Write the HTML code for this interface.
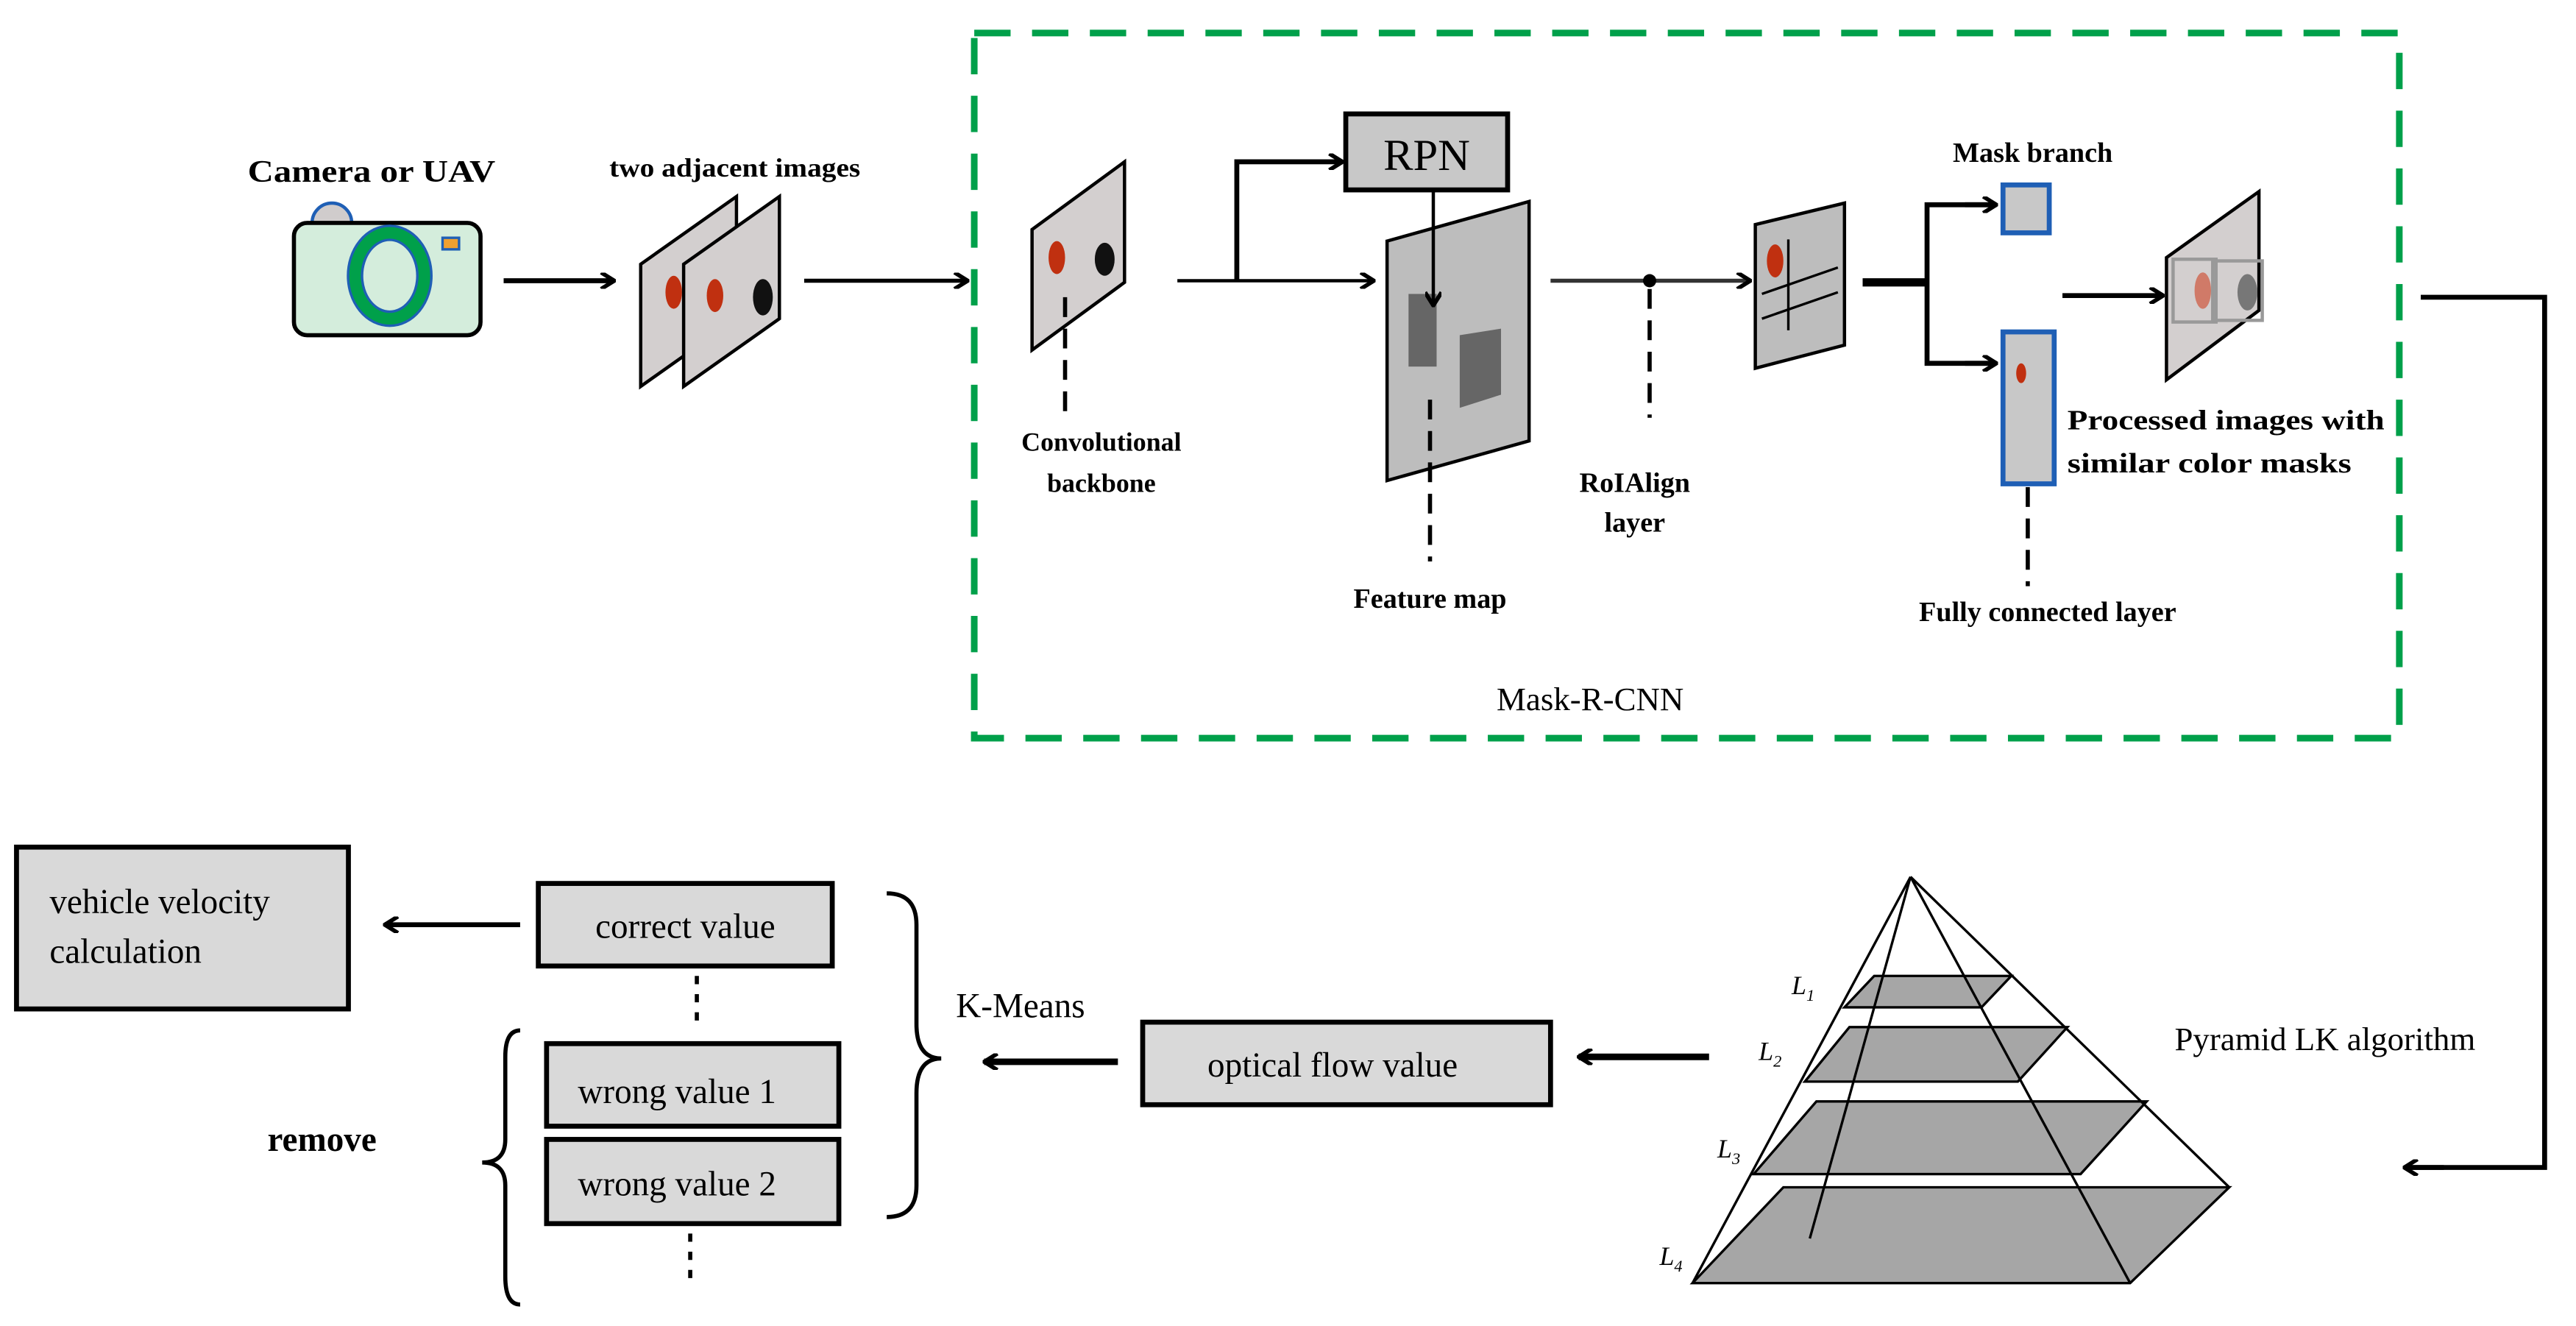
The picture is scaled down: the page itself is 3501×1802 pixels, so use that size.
<!DOCTYPE html>
<html><head><meta charset="utf-8"><style>html,body{margin:0;padding:0;background:#fff}svg{display:block}</style></head>
<body>
<svg width="3501" height="1802" viewBox="0 0 1560 803" preserveAspectRatio="none" xmlns="http://www.w3.org/2000/svg" font-family="Liberation Serif, serif">
<defs>
<marker id="a" markerWidth="10" markerHeight="10" refX="9" refY="5" orient="auto" markerUnits="userSpaceOnUse"><path d="M1,0 L9,5 L1,10" fill="none" stroke="#000" stroke-width="2.5"/></marker>
</defs>
<rect x="590" y="20" width="863" height="427" fill="none" stroke="#00a04a" stroke-width="4" stroke-dasharray="22,13"/>
<text x="225" y="110" font-size="19" text-anchor="middle" font-weight="bold" textLength="150" lengthAdjust="spacingAndGlyphs">Camera or UAV</text>
<path d="M189,135 A12,12 0 0 1 213,135 Z" fill="#d0cccc" stroke="#1f5fb5" stroke-width="2"/>
<rect x="178" y="135" width="113" height="68" rx="8" fill="#d4eddc" stroke="#000" stroke-width="2.5"/>
<ellipse cx="236" cy="167" rx="21" ry="26" fill="none" stroke="#1f5fb5" stroke-width="10"/>
<ellipse cx="236" cy="167" rx="21" ry="26" fill="none" stroke="#00a04a" stroke-width="7"/>
<rect x="268" y="144" width="10" height="7" fill="#f0a030" stroke="#1f5fb5" stroke-width="1.5"/>
<line x1="305" y1="170" x2="372" y2="170" stroke="#000" stroke-width="3" marker-end="url(#a)"/>
<text x="445" y="107" font-size="16" text-anchor="middle" font-weight="bold" textLength="152" lengthAdjust="spacingAndGlyphs">two adjacent images</text>
<path d="M388,160 L446,119 L446,193 L388,234 Z" fill="#d3cfcf" stroke="#000" stroke-width="2"/>
<ellipse cx="408" cy="177" rx="5" ry="10" fill="#c03010"/>
<path d="M414,160 L472,119 L472,193 L414,234 Z" fill="#d3cfcf" stroke="#000" stroke-width="2"/>
<ellipse cx="433" cy="179" rx="5" ry="10" fill="#c03010"/>
<ellipse cx="462" cy="180" rx="6" ry="11" fill="#111"/>
<line x1="487" y1="170" x2="586" y2="170" stroke="#000" stroke-width="2.5" marker-end="url(#a)"/>
<path d="M625,139 L681,98 L681,171 L625,212 Z" fill="#d3cfcf" stroke="#000" stroke-width="2"/>
<ellipse cx="640" cy="156" rx="5" ry="10" fill="#c03010"/>
<ellipse cx="669" cy="157" rx="6" ry="10" fill="#111"/>
<line x1="645" y1="180" x2="645" y2="255" stroke="#000" stroke-width="2.5" stroke-dasharray="12,7"/>
<text x="667" y="273" font-size="16" text-anchor="middle" font-weight="bold">Convolutional</text>
<text x="667" y="298" font-size="16" text-anchor="middle" font-weight="bold">backbone</text>
<line x1="713" y1="170" x2="832" y2="170" stroke="#000" stroke-width="2" marker-end="url(#a)"/>
<polyline points="749,170 749,98 813,98" fill="none" stroke="#000" stroke-width="3" marker-end="url(#a)"/>
<rect x="815" y="69" width="98" height="46" fill="#c8c8c8" stroke="#000" stroke-width="3"/>
<text x="864" y="103" font-size="27" text-anchor="middle">RPN</text>
<path d="M840,146 L926,122 L926,267 L840,291 Z" fill="#bdbdbd" stroke="#000" stroke-width="2"/>
<rect x="853" y="178" width="17" height="44" fill="#666"/>
<path d="M884,203 L909,199 L909,239 L884,247 Z" fill="#666"/>
<line x1="868" y1="115" x2="868" y2="185" stroke="#000" stroke-width="2" marker-end="url(#a)"/>
<line x1="866" y1="242" x2="866" y2="340" stroke="#000" stroke-width="2.5" stroke-dasharray="12,7"/>
<text x="866" y="368" font-size="17" text-anchor="middle" font-weight="bold">Feature map</text>
<line x1="939" y1="170" x2="1060" y2="170" stroke="#333" stroke-width="2.5" marker-end="url(#a)"/>
<circle cx="999" cy="170" r="4" fill="#000"/>
<line x1="999" y1="175" x2="999" y2="253" stroke="#000" stroke-width="2.5" stroke-dasharray="12,7"/>
<text x="990" y="298" font-size="17" text-anchor="middle" font-weight="bold">RoIAlign</text>
<text x="990" y="322" font-size="17" text-anchor="middle" font-weight="bold">layer</text>
<path d="M1063,136 L1117,123 L1117,209 L1063,223 Z" fill="#bdbdbd" stroke="#000" stroke-width="2"/>
<ellipse cx="1075" cy="158" rx="5" ry="10" fill="#c03010"/>
<line x1="1083" y1="145" x2="1083" y2="200" stroke="#000" stroke-width="1.5"/>
<line x1="1067" y1="178" x2="1113" y2="162" stroke="#000" stroke-width="1.5"/>
<line x1="1067" y1="193" x2="1113" y2="177" stroke="#000" stroke-width="1.5"/>
<line x1="1128" y1="171" x2="1167" y2="171" stroke="#000" stroke-width="5"/>
<polyline points="1209,124 1167,124 1167,220 1209,220" fill="none" stroke="#000" stroke-width="3"/>
<line x1="1190" y1="124" x2="1209" y2="124" stroke="#000" stroke-width="3" marker-end="url(#a)"/>
<line x1="1190" y1="220" x2="1209" y2="220" stroke="#000" stroke-width="3" marker-end="url(#a)"/>
<rect x="1213" y="112" width="28" height="29" fill="#c8c8c8" stroke="#1f5fb5" stroke-width="3"/>
<text x="1231" y="98" font-size="17" text-anchor="middle" font-weight="bold">Mask branch</text>
<rect x="1213" y="201" width="31" height="92" fill="#c8c8c8" stroke="#1f5fb5" stroke-width="3"/>
<ellipse cx="1224" cy="226" rx="3" ry="6" fill="#c03010"/>
<line x1="1228" y1="295" x2="1228" y2="355" stroke="#000" stroke-width="2.5" stroke-dasharray="12,7"/>
<text x="1240" y="376" font-size="17" text-anchor="middle" font-weight="bold">Fully connected layer</text>
<line x1="1249" y1="179" x2="1310" y2="179" stroke="#000" stroke-width="3" marker-end="url(#a)"/>
<path d="M1312,156 L1368,116 L1368,188 L1312,230 Z" fill="#d3cfcf" stroke="#000" stroke-width="2"/>
<rect x="1316" y="157" width="26" height="38" fill="none" stroke="#999" stroke-width="2"/>
<rect x="1340" y="158" width="30" height="36" fill="none" stroke="#999" stroke-width="2"/>
<ellipse cx="1334" cy="176" rx="5" ry="11" fill="#d07a68"/>
<ellipse cx="1361" cy="177" rx="6" ry="11" fill="#777"/>
<text x="1252" y="260" font-size="17" font-weight="bold" textLength="192" lengthAdjust="spacingAndGlyphs">Processed images with</text>
<text x="1252" y="286" font-size="17" font-weight="bold" textLength="172" lengthAdjust="spacingAndGlyphs">similar color masks</text>
<text x="963" y="430" font-size="20" text-anchor="middle">Mask-R-CNN</text>
<polyline points="1466,180 1541,180 1541,707 1457,707" fill="none" stroke="#000" stroke-width="3"/>
<line x1="1480" y1="707" x2="1456" y2="707" stroke="#000" stroke-width="3" marker-end="url(#a)"/>
<g font-size="21">
<rect x="10" y="513" width="201" height="98" fill="#d9d9d9" stroke="#000" stroke-width="3"/>
<text x="30" y="553">vehicle velocity</text>
<text x="30" y="583">calculation</text>
<rect x="326" y="535" width="178" height="50" fill="#d9d9d9" stroke="#000" stroke-width="3"/>
<text x="415" y="568" text-anchor="middle">correct value</text>
<rect x="331" y="632" width="177" height="50" fill="#d9d9d9" stroke="#000" stroke-width="3"/>
<text x="410" y="668" text-anchor="middle">wrong value 1</text>
<rect x="331" y="690" width="177" height="51" fill="#d9d9d9" stroke="#000" stroke-width="3"/>
<text x="410" y="724" text-anchor="middle">wrong value 2</text>
<rect x="692" y="619" width="247" height="50" fill="#d9d9d9" stroke="#000" stroke-width="3"/>
<text x="807" y="652" text-anchor="middle">optical flow value</text>
<text x="618" y="616" text-anchor="middle">K-Means</text>
<text x="195" y="697" text-anchor="middle" font-weight="bold">remove</text>
<text x="1408" y="636" text-anchor="middle" font-size="20">Pyramid LK algorithm</text>
</g>
<line x1="315" y1="560" x2="233" y2="560" stroke="#000" stroke-width="3" marker-end="url(#a)"/>
<line x1="1035" y1="640" x2="956" y2="640" stroke="#000" stroke-width="4" marker-end="url(#a)"/>
<line x1="677" y1="643" x2="596" y2="643" stroke="#000" stroke-width="4" marker-end="url(#a)"/>
<line x1="422" y1="591" x2="422" y2="622" stroke="#000" stroke-width="2.5" stroke-dasharray="5,6"/>
<line x1="418" y1="747" x2="418" y2="778" stroke="#000" stroke-width="2.5" stroke-dasharray="5,6"/>
<path d="M537,541 Q555,541 555,560 L555,620 Q555,641 570,641 Q555,641 555,662 L555,718 Q555,737 537,737" fill="none" stroke="#000" stroke-width="2.5"/>
<path d="M315,624 Q306,624 306,640 L306,690 Q306,704 292,704 Q306,704 306,718 L306,773 Q306,790 315,790" fill="none" stroke="#000" stroke-width="2.5"/>
<g stroke="#000" stroke-width="1.5">
<path d="M1080,719 L1350,719 L1290,777 L1025,777 Z" fill="#a6a6a6"/>
<path d="M1100,667 L1300,667 L1260,711 L1062,711 Z" fill="#a6a6a6"/>
<path d="M1120,622 L1252,622 L1222,655 L1093,655 Z" fill="#a6a6a6"/>
<path d="M1135,591 L1218,591 L1200,610 L1117,610 Z" fill="#a6a6a6"/>
<line x1="1157" y1="531" x2="1025" y2="777"/>
<line x1="1157" y1="531" x2="1350" y2="719"/>
<line x1="1157" y1="531" x2="1290" y2="777"/>
<line x1="1157" y1="531" x2="1096" y2="750"/>
</g>
<g font-size="16" font-style="italic">
<text x="1085" y="602">L<tspan font-size="10" dy="4">1</tspan></text>
<text x="1065" y="642">L<tspan font-size="10" dy="4">2</tspan></text>
<text x="1040" y="701">L<tspan font-size="10" dy="4">3</tspan></text>
<text x="1005" y="766">L<tspan font-size="10" dy="4">4</tspan></text>
</g>
</svg>
</body></html>
